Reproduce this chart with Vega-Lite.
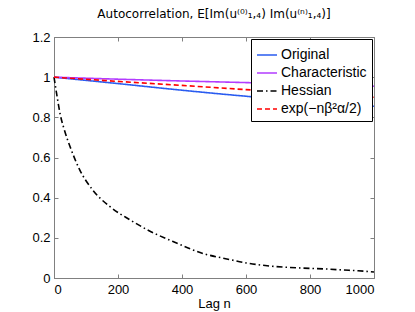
{
  "$schema": "https://vega.github.io/schema/vega-lite/v6.json",
  "width": 320,
  "height": 241,
  "autosize": {"type": "none"},
  "padding": {"left": 54, "top": 37, "right": 41, "bottom": 34},
  "title": {
    "text": "Autocorrelation, E[Im(u⁽⁰⁾₁,₄) Im(u⁽ⁿ⁾₁,₄)]",
    "font": "DejaVu Sans",
    "fontSize": 12,
    "fontWeight": "normal",
    "color": "black",
    "anchor": "middle",
    "offset": 10
  },
  "data": {
    "values": [
      {"n": 0, "v": 1.0, "s": "Original"},
      {"n": 200, "v": 0.968, "s": "Original"},
      {"n": 400, "v": 0.935, "s": "Original"},
      {"n": 600, "v": 0.905, "s": "Original"},
      {"n": 800, "v": 0.879, "s": "Original"},
      {"n": 1000, "v": 0.855, "s": "Original"},
      {"n": 0, "v": 1.0, "s": "Characteristic"},
      {"n": 200, "v": 0.99, "s": "Characteristic"},
      {"n": 400, "v": 0.981, "s": "Characteristic"},
      {"n": 600, "v": 0.973, "s": "Characteristic"},
      {"n": 800, "v": 0.964, "s": "Characteristic"},
      {"n": 1000, "v": 0.955, "s": "Characteristic"},
      {"n": 0, "v": 1.0, "s": "Hessian"},
      {"n": 10, "v": 0.9, "s": "Hessian"},
      {"n": 20, "v": 0.81, "s": "Hessian"},
      {"n": 30, "v": 0.75, "s": "Hessian"},
      {"n": 50, "v": 0.655, "s": "Hessian"},
      {"n": 80, "v": 0.54, "s": "Hessian"},
      {"n": 120, "v": 0.44, "s": "Hessian"},
      {"n": 175, "v": 0.355, "s": "Hessian"},
      {"n": 237, "v": 0.29, "s": "Hessian"},
      {"n": 300, "v": 0.233, "s": "Hessian"},
      {"n": 370, "v": 0.183, "s": "Hessian"},
      {"n": 470, "v": 0.12, "s": "Hessian"},
      {"n": 540, "v": 0.095, "s": "Hessian"},
      {"n": 600, "v": 0.075, "s": "Hessian"},
      {"n": 660, "v": 0.062, "s": "Hessian"},
      {"n": 730, "v": 0.053, "s": "Hessian"},
      {"n": 800, "v": 0.048, "s": "Hessian"},
      {"n": 860, "v": 0.044, "s": "Hessian"},
      {"n": 900, "v": 0.04, "s": "Hessian"},
      {"n": 950, "v": 0.036, "s": "Hessian"},
      {"n": 1000, "v": 0.03, "s": "Hessian"},
      {"n": 0, "v": 1.0, "s": "exp(−nβ²α/2)"},
      {"n": 200, "v": 0.979, "s": "exp(−nβ²α/2)"},
      {"n": 400, "v": 0.959, "s": "exp(−nβ²α/2)"},
      {"n": 600, "v": 0.938, "s": "exp(−nβ²α/2)"},
      {"n": 800, "v": 0.919, "s": "exp(−nβ²α/2)"},
      {"n": 1000, "v": 0.9, "s": "exp(−nβ²α/2)"}
    ]
  },
  "layer": [
    {
      "mark": {"type": "line", "opacity": 0},
      "encoding": {
        "x": {"field": "n", "type": "quantitative", "scale": {"domain": [0, 1000], "nice": false}, "axis": {"orient": "top", "labels": false, "title": null, "values": [0, 200, 400, 600, 800, 1000], "domain": false}},
        "y": {"field": "v", "type": "quantitative", "scale": {"domain": [0, 1.2], "nice": false}, "axis": {"orient": "right", "labels": false, "title": null, "values": [0, 0.2, 0.4, 0.6, 0.8, 1, 1.2], "domain": false}},
        "detail": {"field": "s"}
      }
    },
    {
      "mark": {"type": "line", "strokeWidth": 1.6, "interpolate": "monotone"},
      "encoding": {
        "x": {"field": "n", "type": "quantitative", "scale": {"domain": [0, 1000], "nice": false}, "axis": {"orient": "bottom", "title": "Lag n", "values": [0, 200, 400, 600, 800, 1000], "format": "d", "labelPadding": 9}},
        "y": {"field": "v", "type": "quantitative", "scale": {"domain": [0, 1.2], "nice": false}, "axis": {"orient": "left", "title": null, "values": [0, 0.2, 0.4, 0.6, 0.8, 1, 1.2], "format": "~g", "labelPadding": 8}},
        "color": {
          "field": "s", "type": "nominal",
          "sort": ["Original", "Characteristic", "Hessian", "exp(−nβ²α/2)"],
          "scale": {"domain": ["Original", "Characteristic", "Hessian", "exp(−nβ²α/2)"], "range": ["#2a5cf0", "#b23cff", "#000000", "#ff0000"]},
          "legend": {"title": null}
        },
        "strokeDash": {
          "field": "s", "type": "nominal",
          "sort": ["Original", "Characteristic", "Hessian", "exp(−nβ²α/2)"],
          "scale": {"domain": ["Original", "Characteristic", "Hessian", "exp(−nβ²α/2)"], "range": [[1, 0], [1, 0], [6, 3, 1.5, 3], [5, 3]]},
          "legend": {"title": null}
        }
      }
    }
  ],
  "resolve": {"axis": {"x": "independent", "y": "independent"}},
  "config": {
    "view": {"stroke": "#808080", "strokeWidth": 1},
    "axis": {
      "grid": false,
      "domainColor": "#808080",
      "tickColor": "#808080",
      "tickSize": -4,
      "labelFont": "Liberation Sans",
      "labelFontSize": 13,
      "labelColor": "black",
      "titleFont": "Liberation Sans",
      "titleFontSize": 13,
      "titleFontWeight": "normal",
      "titleColor": "black",
      "titlePadding": 1
    },
    "legend": {
      "orient": "top-right",
      "offset": 2,
      "padding": 5,
      "strokeColor": "black",
      "fillColor": "white",
      "symbolType": "stroke",
      "symbolSize": 400,
      "symbolStrokeWidth": 1.6,
      "rowPadding": -2,
      "labelFont": "Liberation Sans",
      "labelFontSize": 14,
      "labelColor": "black",
      "labelOffset": 3,
      "labelLimit": 300
    }
  }
}
